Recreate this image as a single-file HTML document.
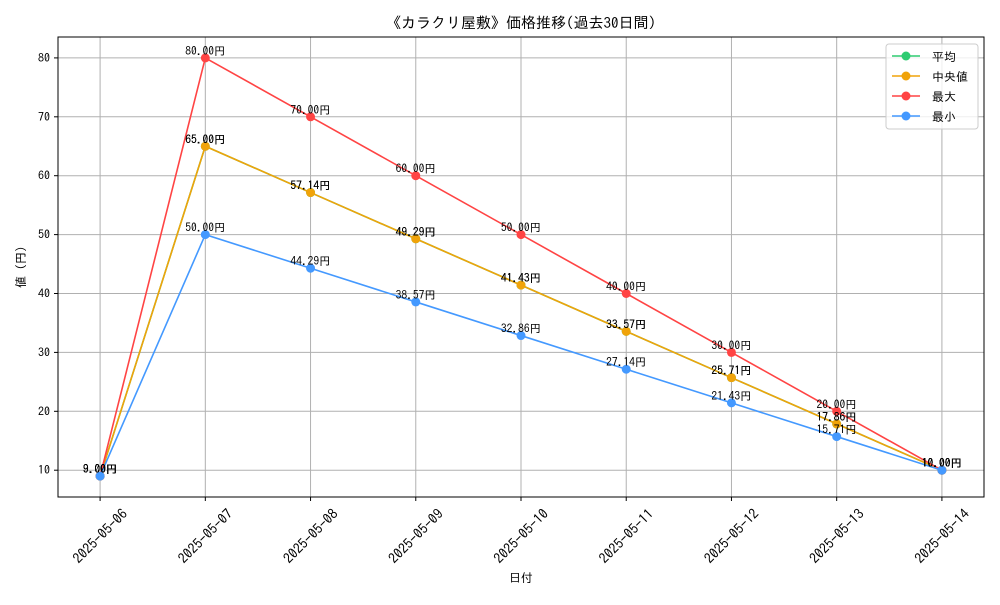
<!DOCTYPE html>
<html><head><meta charset="utf-8">
<style>
body{margin:0;background:#fff;}
svg text{font-family:"IPAGothic","Liberation Sans","Noto Sans CJK JP",sans-serif;}
</style></head><body>
<svg id="chart" width="1000" height="600" xmlns="http://www.w3.org/2000/svg">
<rect width="1000" height="600" fill="#fff"/>
<text x="521" y="28" font-size="15" text-anchor="middle">《カラクリ屋敷》価格推移(過去30日間)</text>
<g id="grid"></g>
<g id="series"></g>
<g id="labels"></g>
<rect x="58" y="37" width="926" height="460" fill="none" stroke="#000" stroke-width="1"/>
<g id="axes"></g>
<text x="521" y="582" font-size="12" text-anchor="middle">日付</text>
<text transform="translate(25,267) rotate(-90)" font-size="12" text-anchor="middle">値 (円)</text>
<g>
<rect x="886" y="44" width="92" height="85" rx="3" fill="#fff" fill-opacity="0.8" stroke="#ccc"/>
<g id="legend-items"></g>
</g>
</svg>
<script>
const categories=["2025-05-06","2025-05-07","2025-05-08","2025-05-09","2025-05-10","2025-05-11","2025-05-12","2025-05-13","2025-05-14"];
const avgValues=[9,65,57.14,49.29,41.43,33.57,25.71,17.86,10];
const medianValues=[9,65,57.14,49.29,41.43,33.57,25.71,17.86,10];
const maxValues=[9,80,70,60,50,40,30,20,10];
const minValues=[9,50,44.29,38.57,32.86,27.14,21.43,15.71,10];
const yTicks=[10,20,30,40,50,60,70,80];
const seriesNames=["平均","中央値","最大","最小"];
const NS="http://www.w3.org/2000/svg";
const L=58,R=984,T=37,B=497;
const allV=[].concat(avgValues,medianValues,maxValues,minValues);
const vmin=Math.min(...allV),vmax=Math.max(...allV),pad=(vmax-vmin)*0.05;
const y0=vmin-pad,y1=vmax+pad;
const xp=i=>{const n=categories.length-1,m=n*0.05;return L+(i+m)/(n+2*m)*(R-L);};
const yp=v=>B-(v-y0)/(y1-y0)*(B-T);
function mk(tag,attrs,parent){const e=document.createElementNS(NS,tag);for(const k in attrs)e.setAttribute(k,attrs[k]);parent.appendChild(e);return e;}
const grid=document.getElementById('grid'),axes=document.getElementById('axes');
categories.forEach((c,i)=>{
  const x=xp(i);
  const g=mk('line',{x1:x,x2:x,y1:T,y2:B,stroke:'#b0b0b0','stroke-width':1},grid);
  
  
  const t=mk('line',{x1:x,x2:x,y1:B,y2:B+4,stroke:'#000'},axes);
  
  
  const cy=B+39;
  const tx=mk('text',{x:x,y:cy+5,'font-size':14,'text-anchor':'middle',transform:`rotate(-45 ${x} ${cy})`},axes);
  
  
  tx.textContent=c;
});
yTicks.forEach(v=>{
  const y=yp(v);
  const g=mk('line',{x1:L,x2:R,y1:y,y2:y,stroke:'#b0b0b0','stroke-width':1},grid);
  
  
  const t=mk('line',{x1:L-4,x2:L,y1:y,y2:y,stroke:'#000'},axes);
  
  
  const tx=mk('text',{x:L-8,y:y+4,'font-size':12,'text-anchor':'end'},axes);
  
  
  tx.textContent=v;
});
const seriesData=[avgValues,medianValues,maxValues,minValues];
const colors=["#2ecc71","#f0a30a","#ff4444","#4499ff"];
const keys=["avg","median","max","min"];
const sg=document.getElementById('series'),lg=document.getElementById('labels');
seriesData.forEach((vals,s)=>{
  const pl=mk('polyline',{points:vals.map((v,i)=>xp(i)+','+yp(v)).join(' '),fill:'none',stroke:colors[s],'stroke-width':1.6},sg);
  
  
  vals.forEach((v,i)=>{
    const c=mk('circle',{cx:xp(i),cy:yp(v),r:4.5,fill:colors[s]},sg);
    
    
    const t=mk('text',{x:xp(i),y:yp(v)-3,'font-size':11.5,'text-anchor':'middle'},lg);
    
    
    t.textContent=v.toFixed(2)+'円';
  });
});
const li=document.getElementById('legend-items');
seriesNames.forEach((n,s)=>{
  const y=56+s*20;
  const l=mk('line',{x1:892,x2:920,y1:y,y2:y,stroke:colors[s],'stroke-width':1.6},li);
  
  
  const c=mk('circle',{cx:906,cy:y,r:4.5,fill:colors[s]},li);
  
  
  const t=mk('text',{x:932,y:y+5,'font-size':12},li);
  
  
  t.textContent=n;
});
</script>
</body></html>
